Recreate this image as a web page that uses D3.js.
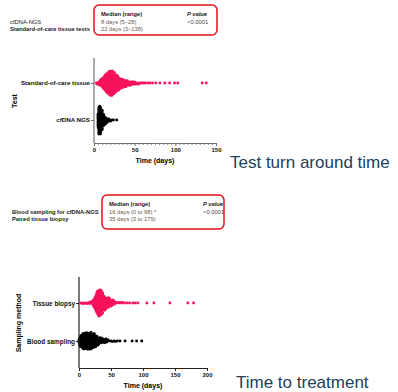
<!DOCTYPE html>
<html>
<head>
<meta charset="utf-8">
<script src="https://cdn.jsdelivr.net/npm/d3@7"></script>
<style>
  body { margin: 0; background: #fff; }
  svg { display: block; }
  text { font-family: "Liberation Sans", Arial, sans-serif; }
</style>
</head>
<body>
<div id="chart"></div>
<script>
// ---- data (days : number of patients) ----
const tatCategories = ['Standard-of-care tissue', 'cfDNA NGS'];
const tatTicks = [0, 50, 100, 150];
const tatTissue = [[3,1],[4,1],[5,1],[6,2],[7,2],[8,3],[9,3],[10,4],[11,5],[12,5],[13,6],[14,7],[15,8],[16,8],[17,9],[18,9],[19,10],[20,10],[21,10],[22,10],[23,10],[24,9],[25,9],[26,8],[27,7],[28,7],[29,6],[30,6],[31,5],[32,5],[33,4],[34,4],[35,4],[36,3],[37,3],[38,3],[39,3],[40,2],[41,3],[42,2],[43,2],[44,2],[45,2],[46,1],[47,2],[48,1],[49,1],[50,2],[51,1],[52,1],[54,1],[55,1],[57,1],[59,1],[61,1],[63,1],[66,1],[69,1],[72,1],[76,1],[81,1],[87,1],[93,1],[99,1],[103,1],[133,1],[138,1]];
const tatCfdna = [[5,10],[6,10],[7,11],[8,10],[9,8],[10,7],[11,5],[12,4],[13,3],[14,3],[15,2],[16,2],[17,1],[18,2],[19,1],[20,1],[22,1],[24,1],[28,1]];

const ttCategories = ['Tissue biopsy', 'Blood sampling'];
const ttTicks = [0, 50, 100, 150, 200];
const ttTissue = [[3,1],[5,1],[7,1],[9,1],[11,1],[13,1],[15,1],[17,2],[19,2],[21,2],[22,2],[23,3],[24,3],[25,4],[26,5],[27,6],[28,7],[29,7],[30,8],[31,8],[32,8],[33,8],[34,8],[35,7],[36,7],[37,6],[38,5],[39,5],[40,4],[41,4],[42,4],[43,3],[44,3],[45,3],[46,3],[47,3],[48,2],[49,2],[50,2],[51,2],[52,2],[53,2],[54,1],[55,2],[56,1],[58,1],[60,1],[62,1],[64,1],[66,1],[68,1],[71,1],[75,1],[79,1],[84,1],[88,1],[92,1],[106,1],[117,1],[142,1],[170,1],[179,1]];
const ttBlood = [[0,3],[1,3],[2,4],[3,4],[4,4],[5,5],[6,5],[7,5],[8,5],[9,5],[10,5],[11,5],[12,5],[13,5],[14,5],[15,5],[16,5],[17,5],[18,5],[19,5],[20,5],[21,4],[22,4],[23,4],[24,4],[25,4],[26,3],[27,3],[28,3],[29,3],[30,2],[31,2],[32,2],[33,2],[34,2],[35,2],[36,1],[37,2],[38,1],[39,1],[40,2],[41,1],[42,2],[43,1],[44,1],[45,1],[47,1],[50,1],[52,1],[55,1],[57,1],[60,1],[64,1],[72,1],[83,1],[90,1],[98,1]];

const pink = '#f5135c';
const svg = d3.select('#chart').append('svg').attr('width', 398).attr('height', 392);

// expand [day, count] pairs into one value per patient
function expand(pairs) {
  const out = [];
  pairs.forEach(([v, n]) => { for (let i = 0; i < n; i++) out.push(v); });
  return out;
}

// simple deterministic beeswarm: offset each dot as close to the row as it can go
function swarm(values, x, d) {
  const placed = [];
  values.slice().sort((a, b) => a - b).forEach(v => {
    const px = x(v);
    const near = placed.filter(p => Math.abs(p.x - px) < d);
    const cands = [0];
    near.forEach(p => {
      const dy = Math.sqrt(d * d - (p.x - px) * (p.x - px));
      cands.push(p.y + dy, p.y - dy);
    });
    cands.sort((a, b) => Math.abs(a) - Math.abs(b));
    const y = cands.find(c => near.every(p => (p.x - px) ** 2 + (p.y - c) ** 2 >= d * d - 1e-6));
    placed.push({ x: px, y: y });
  });
  return placed;
}

function panel(o) {
  const g = svg.append('g');
  const x = d3.scaleLinear().domain(o.xDomain).range(o.xRange);
  const y = d3.scalePoint().domain(o.cats).range(o.yRows);

  // dots
  o.series.forEach((s, i) => {
    const pts = swarm(expand(s.data), x, 1.42);
    g.append('g').selectAll('circle')
      .data(pts)
      .enter()
      .append('circle')
      .attr('cx', d => d.x)
      .attr('cy', d => y(o.cats[i]) + d.y)
      .attr('r', 1.45)
      .attr('fill', s.color);
  });

  // x axis
  const xa = g.append('g')
    .attr('transform', `translate(0,${o.axisBottom})`)
    .call(d3.axisBottom(x).tickValues(o.ticks).tickSize(3).tickPadding(2).tickSizeOuter(0));
  if (o.minor) {
    g.append('g')
      .attr('transform', `translate(0,${o.axisBottom})`)
      .call(d3.axisBottom(x).tickValues(d3.range(o.xDomain[0], o.xDomain[1] + 1, o.minor).filter(t => !o.ticks.includes(t))).tickSize(1.8).tickFormat(''))
      .call(a => a.select('.domain').remove())
      .selectAll('line').attr('stroke', o.axisColor);
  }
  xa.select('.domain').attr('stroke', o.axisColor).attr('stroke-width', 1.2);
  xa.selectAll('.tick line').attr('stroke', o.axisColor);
  xa.selectAll('text').attr('font-size', 6).attr('font-weight', 'bold').attr('fill', '#111');

  // y axis
  const ya = g.append('g')
    .attr('transform', `translate(${o.xRange[0]},0)`)
    .call(d3.axisLeft(y).tickSize(3).tickPadding(1));
  ya.select('.domain').remove();
  ya.selectAll('.tick line').attr('stroke', o.axisColor);
  ya.selectAll('text').attr('font-size', o.catSize).attr('font-weight', 'bold').attr('fill', '#111');
  g.append('line')
    .attr('x1', o.xRange[0]).attr('x2', o.xRange[0])
    .attr('y1', o.axisTop).attr('y2', o.axisBottom)
    .attr('stroke', o.axisColor).attr('stroke-width', 1.2);

  g.append('text')
    .attr('x', (o.xRange[0] + o.xRange[1]) / 2).attr('y', o.axisBottom + 20)
    .attr('text-anchor', 'middle').attr('font-size', 7).attr('font-weight', 'bold')
    .text('Time (days)');
  g.append('text')
    .attr('transform', `translate(${o.yLabelX},${o.yLabelY}) rotate(-90)`)
    .attr('text-anchor', 'middle').attr('font-size', 7).attr('font-weight', 'bold')
    .text(o.yLabel);
}

panel({
  cats: tatCategories, ticks: tatTicks, minor: 5,
  series: [{ data: tatTissue, color: pink }, { data: tatCfdna, color: '#000' }],
  xDomain: [0, 150], xRange: [94, 216], yRows: [83, 120],
  axisTop: 58, axisBottom: 143, axisColor: '#707070', catSize: 6.2,
  yLabel: 'Test', yLabelX: 17, yLabelY: 101
});

panel({
  cats: ttCategories, ticks: ttTicks, minor: 0,
  series: [{ data: ttTissue, color: pink }, { data: ttBlood, color: '#000' }],
  xDomain: [0, 200], xRange: [79, 207], yRows: [303, 341],
  axisTop: 277, axisBottom: 368, axisColor: '#222', catSize: 6.4,
  yLabel: 'Sampling method', yLabelX: 21, yLabelY: 323
});

// summary boxes
function box(o) {
  const g = svg.append('g');
  g.append('rect')
    .attr('x', o.x).attr('y', o.y).attr('width', o.w).attr('height', o.h)
    .attr('rx', 5).attr('fill', 'none').attr('stroke', '#e8101c').attr('stroke-width', 1.5);
  const rows = [o.y + 11, o.y + 18.5, o.y + 26];
  const t = (x, y, s, w, c) => g.append('text').attr('x', x).attr('y', y)
    .attr('font-size', 5.8).attr('font-weight', w).attr('fill', c).text(s);
  t(o.x + 7, rows[0], 'Median (range)', 'bold', '#222');
  t(o.x + 7, rows[1], o.medians[0], 'normal', '#6b5a4e');
  t(o.x + 7, rows[2], o.medians[1], 'normal', '#6b5a4e');
  t(o.pX, rows[0], 'P value', 'bold', '#222').attr('font-style', 'italic');
  t(o.pX, rows[1], o.p, 'normal', '#444');
  t(o.lx, rows[1], o.labels[0], o.labelWeight[0], '#222');
  t(o.lx, rows[2], o.labels[1], 'bold', '#222');
}

box({ x: 94, y: 5, w: 123, h: 30, pX: 187, lx: 10,
  medians: ['8 days (5–28)', '22 days (3–138)'], p: '<0.0001',
  labels: ['cfDNA-NGS', 'Standard-of-care tissue tests'], labelWeight: ['normal', 'bold'] });
box({ x: 102, y: 195, w: 122, h: 34, pX: 203, lx: 12,
  medians: ['16 days (0 to 98) *', '35 days (3 to 179)'], p: '<0.0001',
  labels: ['Blood sampling for cfDNA-NGS', 'Paired tissue biopsy'], labelWeight: ['bold', 'bold'] });

// slide captions
svg.append('text').attr('x', 230).attr('y', 168)
  .attr('font-family', 'Lato, sans-serif').attr('font-size', 17).attr('fill', '#23405a')
  .text('Test turn around time');
svg.append('text').attr('x', 236).attr('y', 388)
  .attr('font-family', 'Lato, sans-serif').attr('font-size', 17).attr('fill', '#23405a')
  .text('Time to treatment');
</script>
</body>
</html>
